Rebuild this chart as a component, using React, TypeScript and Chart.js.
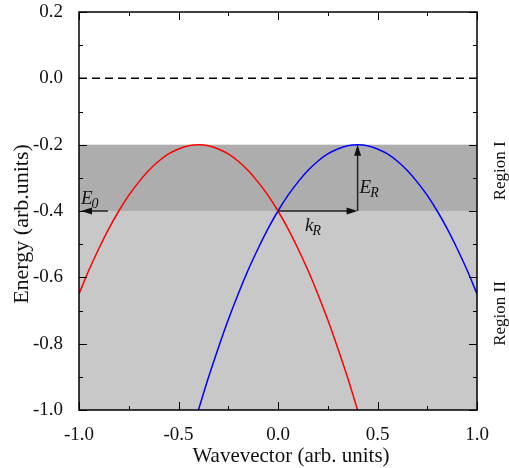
import { useEffect, useRef } from "react";
import { Chart, registerables } from "chart.js";

Chart.register(...registerables);

// Red branch: k (arb. units) and energy (arb. units)
const redK = [-1.0, -0.95, -0.9, -0.85, -0.8, -0.75, -0.7, -0.65, -0.6, -0.55, -0.5, -0.45, -0.4, -0.35, -0.3, -0.25, -0.2, -0.15, -0.1, -0.05, 0.0, 0.05, 0.1, 0.15, 0.2, 0.25, 0.3, 0.35, 0.4];
const redE = [-0.65, -0.578, -0.513, -0.453, -0.4, -0.353, -0.313, -0.278, -0.25, -0.228, -0.213, -0.203, -0.2, -0.203, -0.213, -0.228, -0.25, -0.278, -0.313, -0.353, -0.4, -0.453, -0.513, -0.578, -0.65, -0.728, -0.813, -0.903, -1.0];

// Blue branch
const blueK = [-0.4, -0.35, -0.3, -0.25, -0.2, -0.15, -0.1, -0.05, 0.0, 0.05, 0.1, 0.15, 0.2, 0.25, 0.3, 0.35, 0.4, 0.45, 0.5, 0.55, 0.6, 0.65, 0.7, 0.75, 0.8, 0.85, 0.9, 0.95, 1.0];
const blueE = [-1.0, -0.903, -0.813, -0.728, -0.65, -0.578, -0.513, -0.453, -0.4, -0.353, -0.313, -0.278, -0.25, -0.228, -0.213, -0.203, -0.2, -0.203, -0.213, -0.228, -0.25, -0.278, -0.313, -0.353, -0.4, -0.453, -0.513, -0.578, -0.65];

// Dashed zero line
const zeroK = [-1.0, 1.0];
const zeroE = [0.0, 0.0];

// Axes
const xRange = [-1.0, 1.0];
const yRange = [-1.0, 0.2];
const xTicks = [-1.0, -0.5, 0.0, 0.5, 1.0];
const xTickLabels = ["-1.0", "-0.5", "0.0", "0.5", "1.0"];
const xMinorTicks = [-0.75, -0.25, 0.25, 0.75];
const yTicks = [0.2, 0.0, -0.2, -0.4, -0.6, -0.8, -1.0];
const yTickLabels = ["0.2", "0.0", "-0.2", "-0.4", "-0.6", "-0.8", "-1.0"];
const yMinorTicks = [0.1, -0.1, -0.3, -0.5, -0.7, -0.9];

// Energy bands (Region I: -0.2..-0.4, Region II: -0.4..-1.0)
const bandEdges = [-0.2, -0.4, -1.0];
const regionLabels = ["Region I", "Region II"];

// Annotation arrows: [fromK, fromE, toK, toE]
const arrowE0 = [-0.855, -0.4, -0.99, -0.4];
const arrowKR = [0.0, -0.4, 0.4, -0.4];
const arrowER = [0.4, -0.4, 0.4, -0.2];
// Annotation labels: [k, E] of text baseline start
const labelE0 = [-0.99, -0.38];
const labelER = [0.41, -0.346];
const labelKR = [0.136, -0.46];

const FONT = "'Liberation Serif', 'DejaVu Serif', serif";

function toXY(ks: number[], es: number[]) {
  return ks.map((k, i) => ({ x: k, y: es[i] }));
}

const overlayPlugin = {
  id: "overlay",
  beforeDatasetsDraw(chart: any) {
    const { ctx, chartArea: a, scales } = chart;
    const y = scales.y;
    const colors = ["#adadad", "#c8c8c8"];
    ctx.save();
    for (let i = 0; i < bandEdges.length - 1; i++) {
      const y1 = y.getPixelForValue(bandEdges[i]);
      const y2 = y.getPixelForValue(bandEdges[i + 1]);
      ctx.fillStyle = colors[i];
      ctx.fillRect(a.left, y1, a.right - a.left, y2 - y1);
    }
    ctx.restore();
  },
  afterDatasetsDraw(chart: any) {
    const { ctx, chartArea: a, scales } = chart;
    const x = scales.x;
    const y = scales.y;
    ctx.save();
    ctx.strokeStyle = "#000";
    ctx.lineWidth = 1;
    const major = 8;
    const minor = 4;
    const tickX = (v: number, len: number) => {
      const px = Math.round(x.getPixelForValue(v)) + 0.5;
      ctx.beginPath();
      ctx.moveTo(px, a.bottom);
      ctx.lineTo(px, a.bottom - len);
      ctx.moveTo(px, a.top);
      ctx.lineTo(px, a.top + len);
      ctx.stroke();
    };
    const tickY = (v: number, len: number) => {
      const py = Math.round(y.getPixelForValue(v)) + 0.5;
      ctx.beginPath();
      ctx.moveTo(a.left, py);
      ctx.lineTo(a.left + len, py);
      ctx.moveTo(a.right, py);
      ctx.lineTo(a.right - len, py);
      ctx.stroke();
    };
    xTicks.forEach((v) => tickX(v, major));
    xMinorTicks.forEach((v) => tickX(v, minor));
    yTicks.forEach((v) => tickY(v, major));
    yMinorTicks.forEach((v) => tickY(v, minor));
    ctx.lineWidth = 1.5;
    ctx.strokeRect(a.left, a.top, a.right - a.left, a.bottom - a.top);

    const arrow = (p: number[]) => {
      const x1 = x.getPixelForValue(p[0]);
      const y1 = y.getPixelForValue(p[1]);
      const x2 = x.getPixelForValue(p[2]);
      const y2 = y.getPixelForValue(p[3]);
      const ang = Math.atan2(y2 - y1, x2 - x1);
      const hl = 11;
      const hw = 3.5;
      ctx.strokeStyle = "#222";
      ctx.fillStyle = "#111";
      ctx.lineWidth = 1.5;
      ctx.beginPath();
      ctx.moveTo(x1, y1);
      ctx.lineTo(x2 - Math.cos(ang) * hl * 0.8, y2 - Math.sin(ang) * hl * 0.8);
      ctx.stroke();
      ctx.beginPath();
      ctx.moveTo(x2, y2);
      ctx.lineTo(x2 - Math.cos(ang) * hl - Math.sin(ang) * hw, y2 - Math.sin(ang) * hl + Math.cos(ang) * hw);
      ctx.lineTo(x2 - Math.cos(ang) * hl + Math.sin(ang) * hw, y2 - Math.sin(ang) * hl - Math.cos(ang) * hw);
      ctx.closePath();
      ctx.fill();
    };
    arrow(arrowE0);
    arrow(arrowKR);
    arrow(arrowER);

    const sub = (pos: number[], main: string, s: string) => {
      const px = x.getPixelForValue(pos[0]);
      const py = y.getPixelForValue(pos[1]);
      ctx.fillStyle = "#111";
      ctx.textAlign = "left";
      ctx.textBaseline = "alphabetic";
      ctx.font = `italic 19px ${FONT}`;
      ctx.fillText(main, px, py);
      const w = ctx.measureText(main).width;
      ctx.font = `italic 14px ${FONT}`;
      ctx.fillText(s, px + w - 1, py + 4);
    };
    sub(labelE0, "E", "0");
    sub(labelER, "E", "R");
    sub(labelKR, "k", "R");
    ctx.restore();
  },
  afterDraw(chart: any) {
    const { ctx, scales } = chart;
    const y = scales.y;
    ctx.save();
    ctx.fillStyle = "#111";
    ctx.textAlign = "center";
    ctx.textBaseline = "middle";
    ctx.font = `21px ${FONT}`;
    ctx.fillText("Wavevector (arb. units)", 291, 456);
    ctx.save();
    ctx.translate(22, 224);
    ctx.rotate(-Math.PI / 2);
    ctx.font = `22px ${FONT}`;
    ctx.fillText("Energy (arb.units)", 0, 0);
    ctx.restore();
    ctx.font = `17px ${FONT}`;
    const offsets = [-7, 3];
    for (let i = 0; i < regionLabels.length; i++) {
      const cy = (y.getPixelForValue(bandEdges[i]) + y.getPixelForValue(bandEdges[i + 1])) / 2 + offsets[i];
      ctx.save();
      ctx.translate(501, cy);
      ctx.rotate(-Math.PI / 2);
      ctx.fillText(regionLabels[i], 0, 0);
      ctx.restore();
    }
    ctx.restore();
  },
};

const zeroPad = (s: any) => {
  s.paddingTop = 0;
  s.paddingBottom = 0;
  s.paddingLeft = 0;
  s.paddingRight = 0;
};

export default function App() {
  const ref = useRef<HTMLCanvasElement | null>(null);
  useEffect(() => {
    if (!ref.current) return;
    const chart = new Chart(ref.current, {
      type: "line",
      data: {
        datasets: [
          {
            data: toXY(zeroK, zeroE),
            borderColor: "#000",
            borderWidth: 1.5,
            borderDash: [8, 5],
            pointRadius: 0,
          },
          {
            data: toXY(redK, redE),
            borderColor: "#ff0000",
            borderWidth: 1.5,
            pointRadius: 0,
            cubicInterpolationMode: "monotone",
          },
          {
            data: toXY(blueK, blueE),
            borderColor: "#0000ff",
            borderWidth: 1.5,
            pointRadius: 0,
            cubicInterpolationMode: "monotone",
          },
        ],
      },
      options: {
        animation: false,
        responsive: true,
        maintainAspectRatio: false,
        layout: { padding: { top: 12, right: 32, left: 0, bottom: 0 } },
        plugins: { legend: { display: false }, tooltip: { enabled: false } },
        scales: {
          x: {
            type: "linear",
            min: xRange[0],
            max: xRange[1],
            grid: { display: false },
            border: { display: false },
            afterBuildTicks: (s: any) => {
              s.ticks = xTicks.map((v) => ({ value: v }));
            },
            afterFit: (s: any) => {
              s.height = 58;
              zeroPad(s);
            },
            ticks: {
              autoSkip: false,
              maxRotation: 0,
              padding: 6,
              color: "#111",
              font: { family: FONT, size: 19 },
              callback: (_v: any, i: number) => xTickLabels[i],
            },
          },
          y: {
            type: "linear",
            min: yRange[0],
            max: yRange[1],
            grid: { display: false },
            border: { display: false },
            afterBuildTicks: (s: any) => {
              s.ticks = yTicks.map((v) => ({ value: v }));
            },
            afterFit: (s: any) => {
              s.width = 79;
              zeroPad(s);
            },
            ticks: {
              autoSkip: false,
              padding: 8,
              color: "#111",
              font: { family: FONT, size: 19 },
              callback: (_v: any, i: number) => yTickLabels[i],
            },
          },
        },
      },
      plugins: [overlayPlugin],
    });
    return () => chart.destroy();
  }, []);
  return (
    <div style={{ position: "absolute", left: 0, top: 0, width: 509, height: 468 }}>
      <canvas ref={ref} />
    </div>
  );
}
